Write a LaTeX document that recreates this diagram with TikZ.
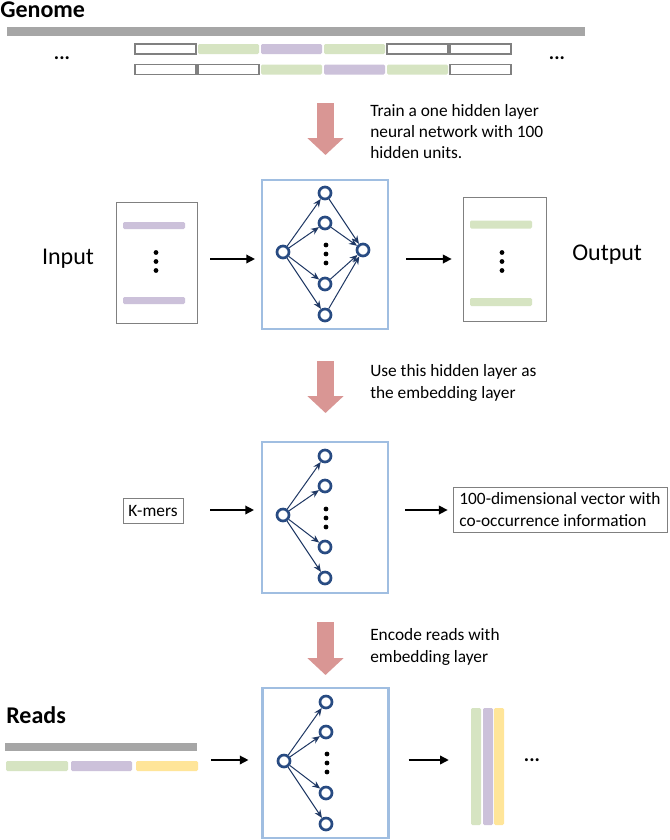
\documentclass[tikz,border=0pt]{standalone}
\usepackage{fontspec}
\setmainfont{Carlito}
\usepackage{xcolor}
\usepackage{tikz}
\usetikzlibrary{arrows.meta,positioning,calc}

\definecolor{barGray}{RGB}{166,166,166}
\definecolor{segGreen}{RGB}{214,228,194}
\definecolor{segPurple}{RGB}{204,193,218}
\definecolor{segYellow}{RGB}{255,229,153}
\definecolor{frameBlue}{RGB}{160,190,225}
\definecolor{unitBlue}{RGB}{40,75,130}
\definecolor{edgeNavy}{RGB}{31,56,100}
\definecolor{stepPink}{RGB}{217,150,148}
\definecolor{boxGray}{RGB}{128,128,128}

\begin{document}
\begin{tikzpicture}[
    x=0.75pt, y=-0.75pt,
    seg/.style={rectangle, rounded corners=1pt, minimum width=45.75pt, minimum height=7.5pt, inner sep=0pt},
    greenseg/.style={seg, fill=segGreen},
    purpleseg/.style={seg, fill=segPurple},
    yellowseg/.style={seg, fill=segYellow},
    emptyseg/.style={seg, rounded corners=0pt, fill=white, draw=boxGray, line width=0.9pt},
    panel/.style={rectangle, draw=boxGray, line width=0.6pt, inner sep=0pt},
    netbox/.style={rectangle, draw=frameBlue, line width=1.6pt, minimum width=94.5pt, inner sep=0pt},
    neuron/.style={circle, draw=unitBlue, line width=2pt, fill=white, minimum size=9pt, inner sep=0pt},
    link/.style={draw=edgeNavy, line width=0.75pt, -{Stealth[length=6pt, width=5pt]}},
    flow/.style={draw=black, line width=1.1pt, -{Triangle[length=6.5pt, width=6.5pt]}},
    stepdown/.style={draw=stepPink, line width=12.75pt, -{Triangle[length=12.75pt, width=26.5pt]}},
    note/.style={anchor=north west, align=left, inner sep=0pt, font=\fontsize{13}{16}\selectfont},
    heading/.style={anchor=base west, inner sep=0pt, font=\fontsize{18}{20}\selectfont\bfseries},
    iolabel/.style={inner sep=0pt, font=\fontsize{18}{20}\selectfont},
    more/.style={inner sep=0pt, font=\fontsize{15}{16}\selectfont\bfseries}
]
    \fill[white] (0,0) rectangle (669,840);
    \useasboundingbox (0,0) rectangle (669,840);

    % Genome and the sliding windows
    \node[heading] (genome) at (0,17) {Genome};
    \node[rectangle, fill=barGray, minimum width=433.5pt, minimum height=6.75pt, inner sep=0pt] (gbar) at (296,31.5) {};
    \foreach \i/\s in {0/emptyseg,1/greenseg,2/purpleseg,3/greenseg,4/emptyseg,5/emptyseg} {
        \node[\s] (ra\i) at (165.5+63*\i, 49) {};
    }
    \foreach \i/\s in {0/emptyseg,1/emptyseg,2/greenseg,3/purpleseg,4/greenseg,5/emptyseg} {
        \node[\s] (rb\i) at (165.5+63*\i, 69.5) {};
    }
    \node[more] (gleft) at (62,58) {...};
    \node[more] (gright) at (557,58) {...};

    % Step 1
    \coordinate (s1) at (325.5,103);
    \coordinate (e1) at (325.5,155);
    \draw[stepdown] (s1) -- (e1);
    \node[note] (t1) at (370,104) {Train a one hidden layer\\neural network with 100\\hidden units.};

    % Input / network / output
    \coordinate (lvl1) at (0,259);
    \node[iolabel] (inlbl) at (68,259) {Input};
    \node[panel, minimum width=60.75pt, minimum height=90.75pt] (inbox) at (156.5,262.5) {};
    \node[purpleseg, minimum width=46.5pt, minimum height=5.25pt] (in1) at (154,225.5) {};
    \node[purpleseg, minimum width=46.5pt, minimum height=5.25pt] (in2) at (154,300.5) {};
    \foreach \k in {-9,0,9} \fill (156,261.5+\k) circle (1.8pt);

    \node[netbox, minimum height=111.75pt] (net1) at (325,254.5) {};
    \node[neuron] (x1) at (283,252) {};
    \node[neuron] (y1) at (363,250) {};
    \foreach \j/\dy in {1/-59,2/-29,3/32,4/63} {
        \node[neuron] (h1\j) at (325,252+\dy) {};
        \draw[link] (x1) -- (h1\j);
        \draw[link] (h1\j) -- (y1);
    }
    \foreach \k in {-9,0,9} \fill (326,254+\k) circle (1.8pt);

    \node[panel, minimum width=62.25pt, minimum height=93pt] (outbox) at (504.5,259) {};
    \node[greenseg, minimum width=46.5pt, minimum height=6pt] (out1) at (501,224.5) {};
    \node[greenseg, minimum width=46.5pt, minimum height=6pt] (out2) at (501,302) {};
    \foreach \k in {-9,0,9} \fill (502,261.5+\k) circle (1.8pt);
    \node[iolabel, anchor=west] (outlbl) at (572,255) {Output};

    \draw[flow, shorten <=9.75pt, shorten >=4.5pt] (inbox.east |- lvl1) -- (net1.west |- lvl1);
    \draw[flow, shorten <=12.75pt, shorten >=8.25pt] (net1.east |- lvl1) -- (outbox.west |- lvl1);

    % Step 2
    \coordinate (s2) at (325.5,361);
    \coordinate (e2) at (325.5,413);
    \draw[stepdown] (s2) -- (e2);
    \node[note, font=\fontsize{13}{16.5}\selectfont] (t2) at (370,364) {Use this hidden layer as\\the embedding layer};

    % K-mers into the embedding layer
    \coordinate (lvl2) at (0,510);
    \node[panel, minimum width=45pt, minimum height=18.75pt, font=\fontsize{13}{16}\selectfont] (kmer) at (153,510.5) {K-mers};
    \node[netbox, minimum height=113.25pt] (net2) at (325,517.5) {};
    \node[neuron] (x2) at (283,515) {};
    \foreach \j/\dy in {1/-59,2/-29,3/32,4/63} {
        \node[neuron] (h2\j) at (325,515+\dy) {};
        \draw[link] (x2) -- (h2\j);
    }
    \foreach \k in {-9,0,9} \fill (326,518+\k) circle (1.8pt);
    \node[panel, align=left, minimum width=160.5pt, minimum height=33.75pt, font=\fontsize{13}{16.5}\selectfont] (vec) at (560,509.5) {100-dimensional vector with\\co-occurrence information};

    \draw[flow, shorten <=20pt, shorten >=5.25pt] (kmer.east |- lvl2) -- (net2.west |- lvl2);
    \draw[flow, shorten <=12pt, shorten >=3.75pt] (net2.east |- lvl2) -- (vec.west |- lvl2);

    % Step 3
    \coordinate (s3) at (325.5,622);
    \coordinate (e3) at (325.5,675);
    \draw[stepdown] (s3) -- (e3);
    \node[note, font=\fontsize{13}{16.5}\selectfont] (t3) at (370,628) {Encode reads with\\embedding layer};

    % Reads
    \coordinate (lvl3) at (0,760);
    \node[heading] (reads) at (6,723) {Reads};
    \node[rectangle, fill=barGray, minimum width=144pt, minimum height=6pt, inner sep=0pt] (rbar) at (101,746.5) {};
    \node[greenseg, minimum width=46.5pt] (rdg) at (37,766) {};
    \node[purpleseg, minimum width=45.75pt] (rdp) at (101.5,766) {};
    \node[yellowseg, minimum width=46.5pt] (rdy) at (167,766) {};

    \node[netbox, minimum height=112.5pt] (net3) at (325.5,763) {};
    \node[neuron] (x3) at (284,761) {};
    \foreach \j/\dy in {1/-59,2/-29,3/32,4/63} {
        \node[neuron] (h3\j) at (326,761+\dy) {};
        \draw[link] (x3) -- (h3\j);
    }
    \foreach \k in {-9,0,9} \fill (327,763+\k) circle (1.8pt);

    \node[greenseg, minimum width=7.5pt, minimum height=87.75pt] (embg) at (476,766.5) {};
    \node[purpleseg, minimum width=7.5pt, minimum height=87.75pt] (embp) at (488,766.5) {};
    \node[yellowseg, minimum width=7.5pt, minimum height=87.75pt] (emby) at (499,766.5) {};
    \node[more] (emore) at (532,760) {...};

    \draw[flow, shorten <=9.75pt, shorten >=9.75pt] (rdy.east |- lvl3) -- (net3.west |- lvl3);
    \draw[flow, shorten <=14.25pt, shorten >=16.5pt] (net3.east |- lvl3) -- (embg.west |- lvl3);
\end{tikzpicture}
\end{document}
